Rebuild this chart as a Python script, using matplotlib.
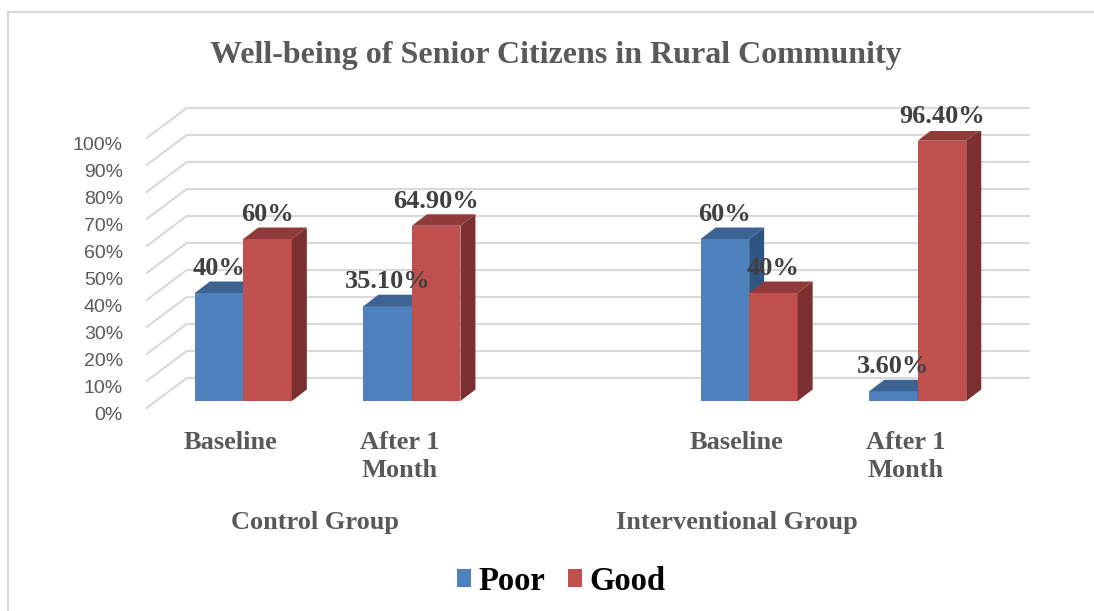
import matplotlib
matplotlib.use("Agg")
import matplotlib.pyplot as plt
from matplotlib.transforms import ScaledTranslation
from matplotlib.patches import Polygon, ConnectionPatch
from matplotlib.lines import Line2D
from matplotlib.font_manager import FontProperties

# ---------------- data ----------------
title = "Well-being of Senior Citizens in Rural Community"
categories = ["Baseline", "After 1\nMonth", "Baseline", "After 1\nMonth"]
slots = [0, 1, 3, 4]
groups = ["Control Group", "Interventional Group"]
group_centers = [0.5, 3]
poor = [40, 35.1, 60, 3.6]
good = [60, 64.9, 40, 96.4]
poor_labels = ["40%", "35.10%", "60%", "3.60%"]
good_labels = ["60%", "64.90%", "40%", "96.40%"]
yticks = [0, 10, 20, 30, 40, 50, 60, 70, 80, 90, 100]
series_names = ["Poor", "Good"]

# ---------------- style ----------------
W, H = 1094, 611
fig = plt.figure(figsize=(W / 100, H / 100), dpi=100)
fig.patch.set_facecolor("white")

ax = fig.add_axes([156 / W, (H - 401) / H, 843 / W, 270 / H])
ax.set_xlim(-0.5, 4.5)
ax.set_ylim(0, 100)
ax.axis("off")

px_per_x = 843 / 5.0
px_per_y = 270 / 100.0

blue, blue_top, blue_side = "#4F81BD", "#3C6391", "#2F5583"
red, red_top, red_side = "#C0504D", "#903B39", "#7B2F2E"
grid_c = "#D9D9D9"
gray_txt = "#595959"
lab_txt = "#404040"
serif = "Liberation Serif"
sans = "Liberation Sans"

def shift(dx_px, dy_px):
    return ax.transData + ScaledTranslation(dx_px / 100, dy_px / 100, fig.dpi_scale_trans)

back = shift(30.7, 23)
front = shift(-9.3, -7)

# gridlines (back wall + left side wall)
for v in yticks:
    ax.plot([-0.5, 4.5], [v, v], color=grid_c, lw=1.5, transform=back,
            zorder=0.5, clip_on=False, solid_capstyle="butt")
    con = ConnectionPatch(xyA=(-0.5, v), coordsA=front, xyB=(-0.5, v), coordsB=back,
                          color=grid_c, lw=1.5, zorder=0.5)
    ax.add_artist(con)
    ax.text(-0.5, v, f"{v}%", transform=shift(-33, -14.5), ha="right", va="center",
            fontsize=14, family=sans, color=gray_txt)

# bars
w = 48.5 / px_per_x
ddx = 15 / px_per_x
ddy = 11.5 / px_per_y

def faces(bars, ctop, cside, z):
    for b in bars:
        x0 = b.get_x()
        x1 = x0 + b.get_width()
        h = b.get_height()
        top = Polygon([(x0, h), (x1, h), (x1 + ddx, h + ddy), (x0 + ddx, h + ddy)],
                      closed=True, facecolor=ctop, edgecolor="none", zorder=z)
        side = Polygon([(x1, 0), (x1 + ddx, ddy), (x1 + ddx, h + ddy), (x1, h)],
                       closed=True, facecolor=cside, edgecolor="none", zorder=z)
        ax.add_patch(top)
        ax.add_patch(side)

xs_poor = [s - w / 2 + 0.018 for s in slots]
xs_good = [s + w / 2 + 0.018 for s in slots]
bp = ax.bar(xs_poor, poor, width=w, color=blue, zorder=2, label=series_names[0])
faces(bp, blue_top, blue_side, 2.1)
bg = ax.bar(xs_good, good, width=w, color=red, zorder=3, label=series_names[1])
faces(bg, red_top, red_side, 3.1)

# data labels
lab_off = 18 / px_per_y
for x, v, t in zip(xs_poor, poor, poor_labels):
    ax.text(x, v + lab_off, t, ha="center", va="baseline", fontsize=19,
            family=serif, weight="bold", color=lab_txt, zorder=10)
for x, v, t in zip(xs_good, good, good_labels):
    ax.text(x, v + lab_off, t, ha="center", va="baseline", fontsize=19,
            family=serif, weight="bold", color=lab_txt, zorder=10)

# category labels
for s, c in zip(slots, categories):
    ax.text(s, 0, c, transform=shift(-9.3, -30), ha="center", va="top", fontsize=19,
            family=serif, weight="bold", color=gray_txt, linespacing=1.3)
for gc, g in zip(group_centers, groups):
    ax.text(gc, 0, g, transform=shift(-9.3, -128), ha="center", va="baseline",
            fontsize=19, family=serif, weight="bold", color=gray_txt)

# title
fig.text(556 / W, (H - 63) / H, title, ha="center", va="baseline", fontsize=23,
         family=serif, weight="bold", color=gray_txt)

# legend
fig.legend(handles=[bp, bg], labels=series_names, loc="center",
           bbox_to_anchor=(561 / W, (H - 581) / H), ncol=2, frameon=False,
           prop=FontProperties(family=serif, weight="bold", size=23.5),
           handlelength=0.44, handleheight=0.44, handletextpad=0.22,
           columnspacing=0.7, borderpad=0, labelcolor="black")

# outer chart border (top & left visible)
fig.add_artist(Line2D([8 / W, 1.0], [(H - 12) / H, (H - 12) / H], color=grid_c, lw=1.5,
                      transform=fig.transFigure))
fig.add_artist(Line2D([8 / W, 8 / W], [0, (H - 12) / H], color=grid_c, lw=1.5,
                      transform=fig.transFigure))

fig.savefig("out.png", dpi=100)
